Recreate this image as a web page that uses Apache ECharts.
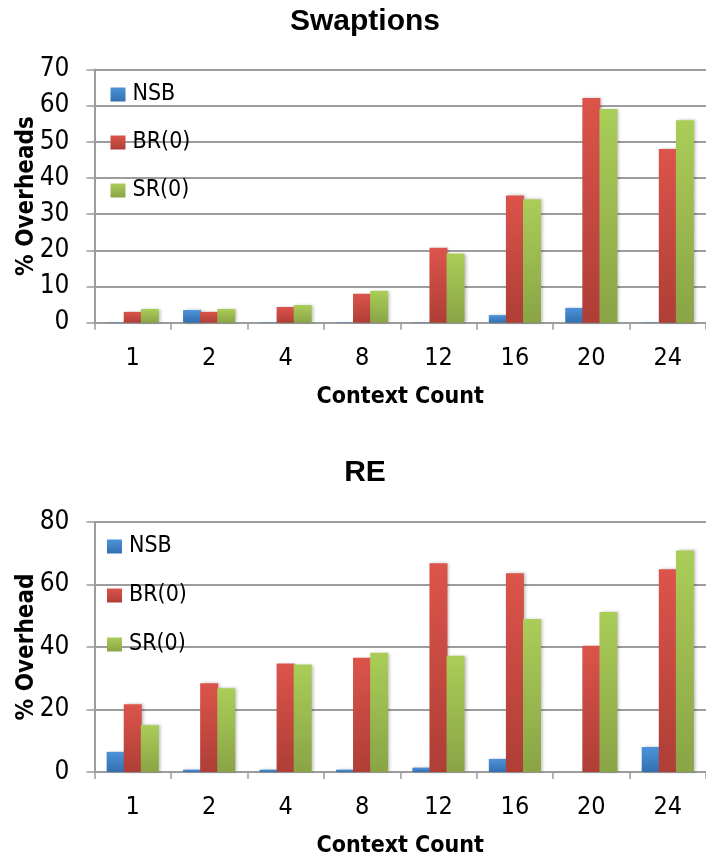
<!DOCTYPE html>
<html>
<head>
<meta charset="utf-8">
<script src="https://cdn.jsdelivr.net/npm/echarts@6/dist/echarts.min.js"></script>
<style>
html,body{margin:0;padding:0;background:#fff;}
#chart{width:706px;height:859px;}
</style>
</head>
<body>
<div id="chart"></div>
<script>
const categories = ['1', '2', '4', '8', '12', '16', '20', '24'];
const seriesNames = ['NSB', 'BR(0)', 'SR(0)'];
// Swaptions
const swapNSB = [0.1, 3.5, 0.1, 0.1, 0.1, 2.1, 4.1, 0.1];
const swapBR  = [3.0, 3.0, 4.35, 8.0, 20.7, 35.2, 62.1, 48.0];
const swapSR  = [3.8, 3.8, 4.9, 8.8, 19.1, 34.1, 59.1, 56.0];
// RE
const reNSB = [6.45, 0.75, 0.75, 0.75, 1.4, 4.2, 0, 8.0];
const reBR  = [21.7, 28.4, 34.7, 36.6, 66.8, 63.6, 40.4, 64.9];
const reSR  = [15.0, 26.8, 34.4, 38.2, 37.2, 49.0, 51.2, 70.9];

const NARROW = '"Liberation Sans Narrow", "DejaVu Sans Condensed", "Liberation Sans", sans-serif';
const BOLD = '"Liberation Sans", "DejaVu Sans", sans-serif';

function grad(top, bottom) {
  return new echarts.graphic.LinearGradient(0, 0, 0, 1, [
    {offset: 0, color: top}, {offset: 1, color: bottom}
  ]);
}
const colors = [grad('#4d93da', '#336fae'), grad('#dc544b', '#ae3e36'), grad('#aacd58', '#8aa446')];

function mkSeries(name, data, idx, gi) {
  return {
    name: name, type: 'bar', data: data,
    xAxisIndex: gi, yAxisIndex: gi,
    barWidth: 18, barGap: '-5%',
    itemStyle: {color: colors[idx], shadowBlur: 3, shadowColor: 'rgba(0,0,0,0.25)', shadowOffsetX: 2},
    emphasis: {disabled: true}
  };
}

const axisGray = '#9c9c9c';
function xAx(gi) {
  return {
    type: 'category', gridIndex: gi, data: categories,
    name: 'Context Count', nameLocation: 'middle', nameGap: 63, nameMoveOverlap: false,
    nameTextStyle: {fontFamily: NARROW, fontWeight: 'bold', fontSize: 23, color: '#000'},
    axisLine: {lineStyle: {color: axisGray, width: 2}},
    axisTick: {show: true, length: 7, lineStyle: {color: axisGray, width: 1.5}},
    axisLabel: {fontFamily: NARROW, fontSize: 25, color: '#000', margin: 23}
  };
}
function yAx(gi, max, interval, name) {
  return {
    type: 'value', gridIndex: gi, min: 0, max: max, interval: interval,
    name: name, nameLocation: 'middle', nameGap: 56, nameRotate: 90, nameMoveOverlap: false,
    nameTextStyle: {fontFamily: NARROW, fontWeight: 'bold', fontSize: 24, color: '#000'},
    axisLine: {show: true, lineStyle: {color: axisGray, width: 2}},
    axisTick: {show: true, length: 8, lineStyle: {color: axisGray, width: 1.5}},
    axisLabel: {fontFamily: NARROW, fontSize: 26, color: '#000', margin: 25},
    splitLine: {show: true, lineStyle: {color: axisGray, width: 2}}
  };
}
function leg(gi, left, top, gap) {
  return {
    orient: 'vertical', left: left, top: top, padding: 0,
    data: seriesNames.map(n => ({name: n})),
    icon: 'rect', itemWidth: 15, itemHeight: 14, itemGap: gap,
    textStyle: {fontFamily: NARROW, fontSize: 23, color: '#000', padding: [0, 0, 0, 2]},
    selectedMode: false
  };
}

const chart = echarts.init(document.getElementById('chart'));
const s0 = [swapNSB, swapBR, swapSR];
const s1 = [reNSB, reBR, reSR];
const series = [];
seriesNames.forEach((n, i) => series.push(mkSeries(n, s0[i], i, 0)));
seriesNames.forEach((n, i) => series.push(mkSeries(n, s1[i], i, 1)));

chart.setOption({
  animation: false,
  backgroundColor: '#fff',
  title: [
    {text: 'Swaptions', left: 360, top: 2, textAlign: 'center',
     textStyle: {fontFamily: BOLD, fontWeight: 'bold', fontSize: 30, color: '#000'}},
    {text: 'RE', left: 360, top: 453, textAlign: 'center',
     textStyle: {fontFamily: BOLD, fontWeight: 'bold', fontSize: 30, color: '#000'}}
  ],
  legend: [leg(0, 110.5, 83, 25), leg(1, 107, 535, 26)],
  grid: [
    {left: 94.5, top: 69.5, width: 615, height: 253.2, containLabel: false},
    {left: 94.5, top: 522, width: 615, height: 252.3, containLabel: false}
  ],
  xAxis: [xAx(0), xAx(1)],
  yAxis: [yAx(0, 70, 10, '% Overheads'), yAx(1, 80, 20, '% Overhead')],
  series: series
});
</script>
</body>
</html>
